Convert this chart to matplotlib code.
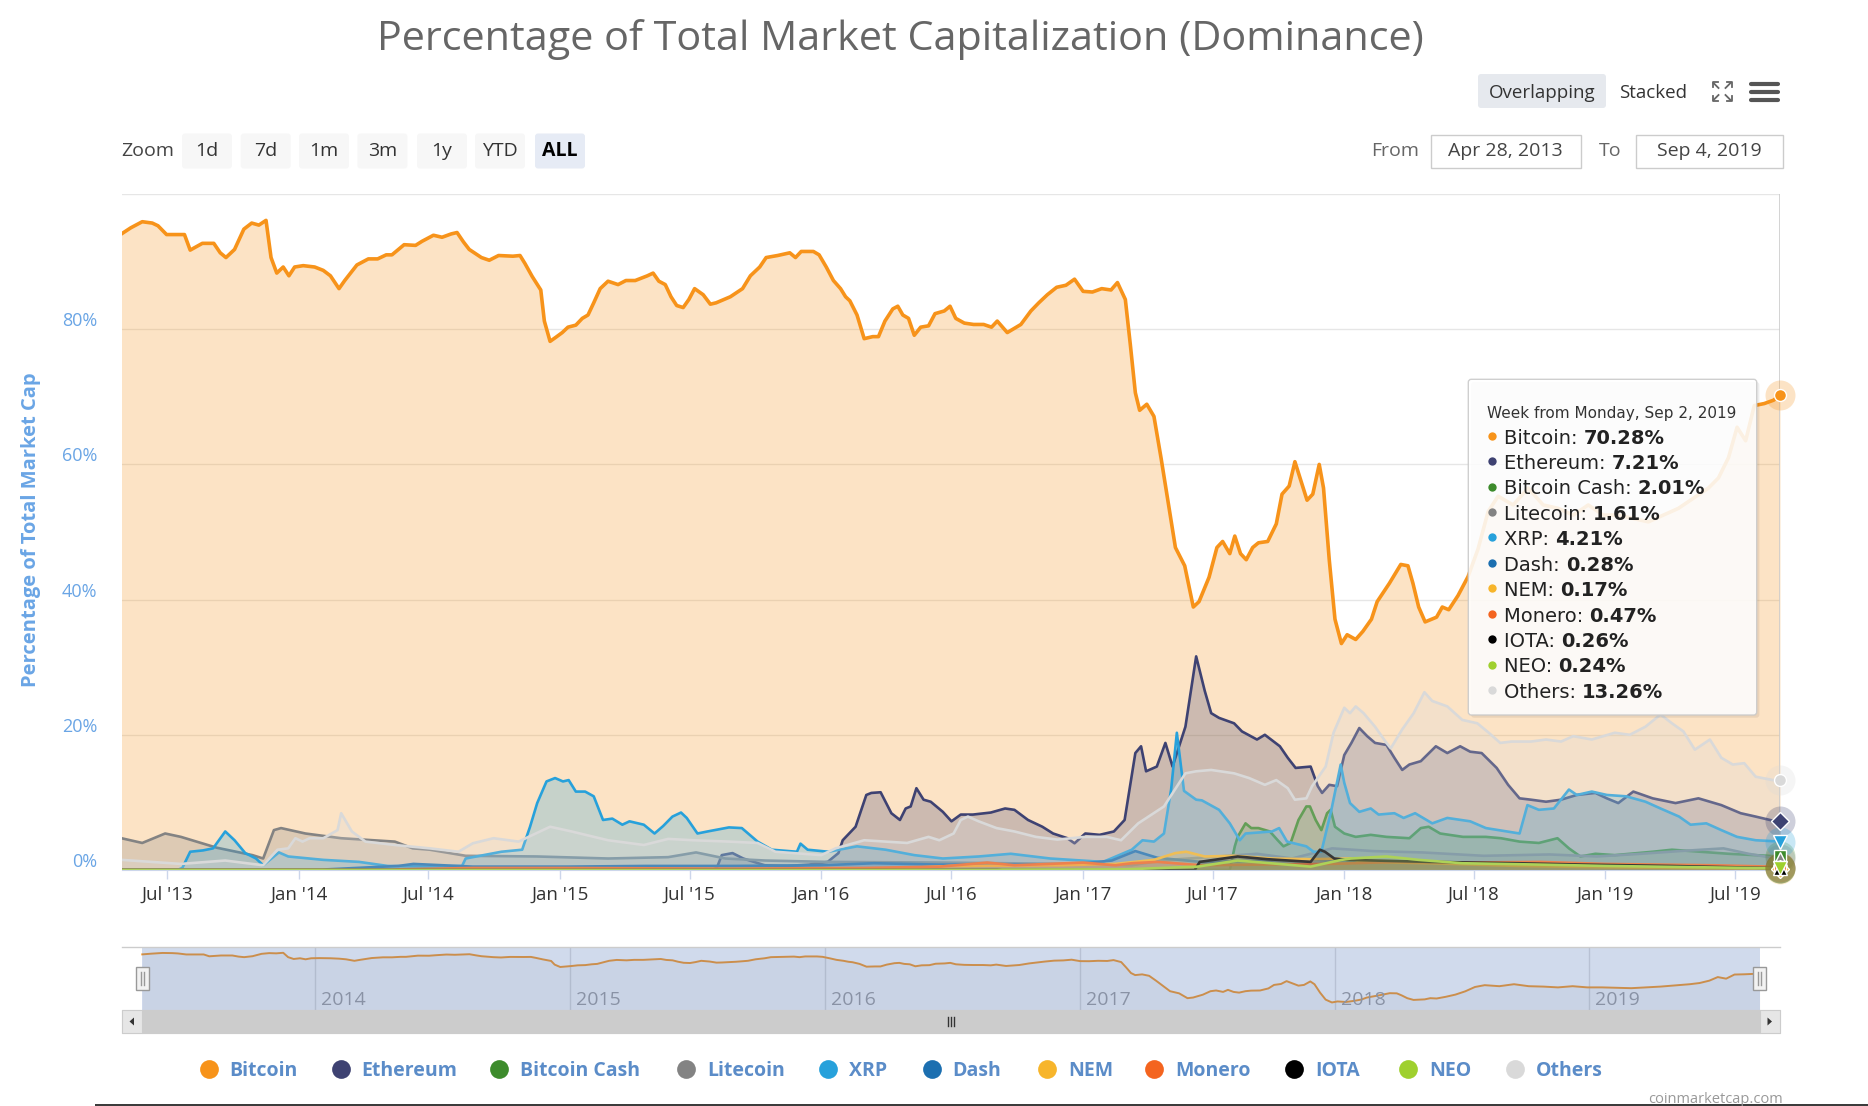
import numpy as np
import pandas as pd
import matplotlib
matplotlib.use("Agg")
import matplotlib.pyplot as plt
import matplotlib.dates as mdates
from matplotlib.patches import Rectangle, FancyBboxPatch, Polygon
from matplotlib.transforms import offset_copy

plt.rcParams['font.family'] = ['Open Sans', 'DejaVu Sans']

# ---------------- data: weekly dominance (% of total market cap) ----------------
btc_dates = ['2013-04-28', '2013-05-11', '2013-05-27', '2013-06-10', '2013-06-18', '2013-06-30',
             '2013-07-25', '2013-08-02', '2013-08-19', '2013-09-04', '2013-09-13', '2013-09-21',
             '2013-10-03', '2013-10-16', '2013-10-27', '2013-11-06', '2013-11-16', '2013-11-23',
             '2013-12-01', '2013-12-10', '2013-12-18', '2013-12-26', '2014-01-07', '2014-01-23',
             '2014-02-04', '2014-02-14', '2014-02-26', '2014-03-06', '2014-03-23', '2014-04-08',
             '2014-04-21', '2014-05-03', '2014-05-11', '2014-05-28', '2014-06-13', '2014-06-22',
             '2014-07-08', '2014-07-20', '2014-08-02', '2014-08-10', '2014-08-19', '2014-08-27',
             '2014-09-13', '2014-09-24', '2014-10-07', '2014-10-27', '2014-11-06', '2014-11-13',
             '2014-11-23', '2014-12-05', '2014-12-10', '2014-12-18', '2014-12-26', '2015-01-04',
             '2015-01-12', '2015-01-23', '2015-02-01', '2015-02-09', '2015-02-17', '2015-02-26',
             '2015-03-09', '2015-03-23', '2015-04-03', '2015-04-16', '2015-05-03', '2015-05-11',
             '2015-05-19', '2015-05-28', '2015-06-05', '2015-06-13', '2015-06-22', '2015-06-30',
             '2015-07-08', '2015-07-20', '2015-07-30', '2015-08-07', '2015-08-27', '2015-09-13',
             '2015-09-24', '2015-10-07', '2015-10-16', '2015-11-01', '2015-11-18', '2015-11-26',
             '2015-12-04', '2015-12-21', '2015-12-29', '2016-01-08', '2016-01-18', '2016-01-28',
             '2016-02-04', '2016-02-10', '2016-02-20', '2016-03-01', '2016-03-13', '2016-03-21',
             '2016-03-30', '2016-04-10', '2016-04-17', '2016-04-24', '2016-05-02', '2016-05-10',
             '2016-05-19', '2016-05-30', '2016-06-08', '2016-06-21', '2016-06-29', '2016-07-07',
             '2016-07-19', '2016-08-01', '2016-08-15', '2016-08-26', '2016-09-03', '2016-09-17',
             '2016-09-25', '2016-10-06', '2016-10-20', '2016-10-31', '2016-11-12', '2016-11-25',
             '2016-12-08', '2016-12-20', '2017-01-01', '2017-01-14', '2017-01-27', '2017-02-09',
             '2017-02-18', '2017-03-01', '2017-03-08', '2017-03-15', '2017-03-21', '2017-03-31',
             '2017-04-10', '2017-04-20', '2017-05-02', '2017-05-10', '2017-05-23', '2017-06-04',
             '2017-06-12', '2017-06-26', '2017-07-07', '2017-07-15', '2017-07-25', '2017-08-01',
             '2017-08-09', '2017-08-17', '2017-08-26', '2017-09-03', '2017-09-16', '2017-09-28',
             '2017-10-06', '2017-10-16', '2017-10-24', '2017-11-02', '2017-11-10', '2017-11-18',
             '2017-11-27', '2017-12-03', '2017-12-11', '2017-12-19', '2017-12-28', '2018-01-05',
             '2018-01-17', '2018-01-27', '2018-02-08', '2018-02-16', '2018-03-05', '2018-03-21',
             '2018-03-31', '2018-04-07', '2018-04-15', '2018-04-24', '2018-05-10', '2018-05-18',
             '2018-05-27', '2018-06-09', '2018-06-23', '2018-07-07', '2018-07-21', '2018-08-04',
             '2018-08-25', '2018-09-15', '2018-10-06', '2018-10-27', '2018-11-17', '2018-12-08',
             '2018-12-29', '2019-01-19', '2019-02-09', '2019-03-02', '2019-03-23', '2019-04-13',
             '2019-05-04', '2019-05-25', '2019-06-08', '2019-06-22', '2019-07-04', '2019-07-16',
             '2019-07-28', '2019-08-11', '2019-08-24', '2019-09-02']
btc_vals = [94.1, 95.0, 95.9, 95.7, 95.3, 94.0, 94.0, 91.7, 92.7, 92.7, 91.3, 90.6,
            91.8, 94.8, 95.7, 95.4, 96.1, 90.6, 88.3, 89.2, 87.9, 89.2, 89.4, 89.2,
            88.7, 87.9, 86.0, 87.2, 89.5, 90.4, 90.4, 91.0, 91.0, 92.5, 92.4, 93.0,
            93.9, 93.6, 94.1, 94.3, 92.9, 91.8, 90.6, 90.2, 90.9, 90.8, 90.9, 89.7,
            87.8, 85.8, 81.2, 78.2, 78.8, 79.5, 80.3, 80.6, 81.6, 82.1, 83.9, 86.0,
            87.1, 86.6, 87.2, 87.2, 87.9, 88.3, 87.1, 86.6, 84.8, 83.5, 83.2, 84.4,
            86.0, 85.1, 83.7, 83.9, 84.8, 86.0, 87.9, 89.2, 90.6, 90.9, 91.3, 90.6,
            91.5, 91.5, 91.0, 89.2, 87.2, 86.0, 84.8, 84.2, 82.1, 78.6, 78.9, 78.9,
            81.2, 83.0, 83.4, 82.1, 81.6, 79.1, 80.3, 80.5, 82.3, 82.7, 83.4, 81.6,
            80.9, 80.7, 80.7, 80.3, 81.2, 79.5, 80.0, 80.7, 82.7, 83.9, 85.1, 86.2,
            86.5, 87.4, 85.6, 85.5, 86.0, 85.8, 86.9, 84.4, 77.7, 70.6, 68.0, 68.9,
            67.1, 60.9, 53.0, 47.7, 45.0, 38.9, 39.7, 43.3, 47.7, 48.6, 46.8, 49.4,
            46.8, 45.9, 47.7, 48.4, 48.6, 51.2, 55.6, 56.8, 60.4, 57.4, 54.7, 55.6,
            60.0, 56.5, 45.9, 37.1, 33.5, 34.8, 34.1, 35.3, 37.1, 39.7, 42.4, 45.2,
            45.0, 42.4, 38.9, 36.7, 37.4, 38.9, 38.5, 40.6, 43.4, 47.5, 53.0, 55.3,
            54.0, 56.5, 54.0, 53.5, 52.5, 54.0, 52.5, 52.5, 52.0, 51.5, 52.5, 53.5,
            55.0, 56.5, 58.0, 61.0, 65.5, 63.5, 68.7, 69.0, 69.5, 70.28]

eth_dates = ['2013-04-28', '2015-08-01', '2015-08-08', '2015-08-15', '2015-08-30', '2015-09-14',
             '2015-10-14', '2015-11-15',
             '2015-12-15', '2016-01-10', '2016-01-25', '2016-01-31', '2016-02-18', '2016-03-04',
             '2016-03-11', '2016-03-24', '2016-04-08', '2016-04-20', '2016-04-28', '2016-05-05',
             '2016-05-13', '2016-05-23', '2016-06-02', '2016-06-19', '2016-07-01', '2016-07-14',
             '2016-07-31', '2016-08-25', '2016-09-14', '2016-09-27', '2016-10-16', '2016-11-05',
             '2016-11-20', '2016-12-10', '2016-12-20', '2017-01-04', '2017-01-24', '2017-02-13',
             '2017-02-28', '2017-03-15', '2017-03-23', '2017-03-30', '2017-04-14', '2017-04-26',
             '2017-05-06', '2017-05-24', '2017-06-08', '2017-06-20', '2017-06-29', '2017-07-10',
             '2017-07-31', '2017-08-11', '2017-09-01', '2017-09-12', '2017-10-03', '2017-10-14',
             '2017-10-25', '2017-11-15', '2017-11-25', '2017-12-01', '2017-12-11', '2017-12-22',
             '2018-01-01', '2018-01-11', '2018-01-22', '2018-02-02', '2018-02-13', '2018-03-01',
             '2018-03-12', '2018-03-23', '2018-04-02', '2018-04-18', '2018-05-09', '2018-05-25',
             '2018-06-12', '2018-06-26', '2018-07-12', '2018-08-02', '2018-08-18', '2018-09-03',
             '2018-09-19', '2018-10-10', '2018-10-31', '2018-11-22', '2018-12-18', '2019-01-03',
             '2019-01-19', '2019-02-09', '2019-03-08', '2019-04-09', '2019-05-11', '2019-06-12',
             '2019-07-09', '2019-07-30', '2019-08-23', '2019-09-02']
eth_vals = [0, 0, 0.3, 2.2, 2.5, 1.7, 0.7, 0.6, 0.8, 1.2, 2.5, 4.4, 6.4, 11.1,
            11.4, 11.5, 8.4, 7.4, 9.1, 9.4, 12.1, 10.4, 10.1, 8.6, 7.2, 8.2,
            8.2, 8.5, 9.1, 8.9, 7.4, 6.4, 5.4, 4.7, 3.95, 5.4, 5.2, 5.7,
            7.4, 17.3, 18.3, 14.6, 15.3, 18.8, 15.3, 21.2, 31.6, 26.5, 23.2, 22.5,
            21.7, 20.5, 19.3, 20.0, 18.3, 16.6, 15.1, 15.3, 12.4, 11.4, 12.6, 12.4,
            17.0, 18.8, 21.0, 19.8, 18.8, 18.5, 16.6, 14.8, 15.6, 16.1, 18.3, 17.3,
            18.3, 17.5, 17.3, 15.1, 12.6, 10.6, 10.4, 10.1, 10.4, 11.1, 11.4, 10.6,
            9.9, 11.6, 10.6, 9.9, 10.6, 9.6, 8.4, 7.9, 7.3, 7.21]

bch_dates = ['2013-04-28', '2017-07-25',
             '2017-08-01', '2017-08-05', '2017-08-16', '2017-08-24', '2017-09-03', '2017-09-19',
             '2017-09-30', '2017-10-08', '2017-10-18', '2017-10-29', '2017-11-09', '2017-11-14',
             '2017-11-22', '2017-11-30', '2017-12-08', '2017-12-13', '2017-12-19', '2018-01-01',
             '2018-01-17', '2018-02-07', '2018-03-01', '2018-04-02', '2018-04-18', '2018-04-29',
             '2018-05-15', '2018-06-16', '2018-07-18', '2018-08-08', '2018-09-03', '2018-09-30',
             '2018-10-26', '2018-11-11', '2018-11-27', '2018-12-18', '2019-01-14', '2019-03-08',
             '2019-04-04', '2019-06-22', '2019-09-02']
bch_vals = [0, 0, 3.5, 4.9, 6.9, 6.2, 6.2, 5.7, 4.4, 3.5, 4.0, 7.4, 9.4, 9.4,
            7.4, 5.9, 8.4, 8.9, 6.4, 5.4, 4.9, 5.2, 4.9, 4.7, 6.2, 6.4,
            5.4, 4.9, 4.9, 4.7, 4.2, 4.0, 4.7, 3.2, 2.0, 2.4, 2.2, 2.7,
            3.0, 2.4, 2.01]

ltc_dates = ['2013-04-28', '2013-05-27', '2013-06-28', '2013-07-20', '2013-09-08', '2013-10-28',
             '2013-11-12', '2013-11-27', '2013-12-07', '2014-01-10', '2014-03-01', '2014-05-15',
             '2014-06-09', '2014-07-03', '2014-08-22', '2014-11-30', '2015-03-09', '2015-06-01',
             '2015-07-10', '2015-08-20', '2015-10-15', '2016-01-10', '2016-06-15', '2016-12-15',
             '2017-03-10', '2017-04-15', '2017-05-15', '2017-07-10', '2017-09-01', '2017-10-20',
             '2017-12-15', '2018-02-10', '2018-04-20', '2018-07-15', '2018-10-15', '2018-12-20',
             '2019-02-20', '2019-04-15', '2019-06-15', '2019-07-20', '2019-09-02']
ltc_vals = [4.7, 4.0, 5.4, 4.9, 3.3, 2.2, 1.7, 5.9, 6.2, 5.4, 4.7, 4.2,
            3.2, 3.0, 2.1, 2.0, 1.7, 1.9, 2.6, 1.7, 1.4, 1.2, 1.1, 0.9,
            0.7, 1.3, 1.6, 2.0, 2.4, 1.7, 3.2, 2.8, 2.6, 2.1, 2.3, 2.0,
            2.4, 2.8, 3.2, 2.4, 1.61]

xrp_dates = ['2013-04-28', '2013-07-15',
             '2013-07-22', '2013-08-02', '2013-08-20', '2013-09-03', '2013-09-20', '2013-10-03',
             '2013-10-18', '2013-11-02', '2013-11-12', '2013-12-04', '2013-12-17', '2014-02-04',
             '2014-03-26', '2014-05-05', '2014-07-03', '2014-08-17', '2014-08-22', '2014-10-11',
             '2014-11-09', '2014-11-20', '2014-11-30', '2014-12-13', '2014-12-25', '2015-01-05',
             '2015-01-13', '2015-01-23', '2015-02-05', '2015-02-17', '2015-03-02', '2015-03-15',
             '2015-03-29', '2015-04-08', '2015-04-28', '2015-05-13', '2015-05-25', '2015-06-07',
             '2015-06-19', '2015-06-27', '2015-07-12', '2015-07-26', '2015-08-25', '2015-09-12',
             '2015-10-04', '2015-10-24', '2015-11-28', '2015-12-03', '2015-12-13', '2016-01-11',
             '2016-02-20', '2016-03-31', '2016-05-10', '2016-06-19', '2016-08-08', '2016-09-22',
             '2016-11-16', '2017-01-29', '2017-03-10', '2017-03-25', '2017-04-10', '2017-04-24',
             '2017-05-04', '2017-05-12', '2017-05-22', '2017-06-08', '2017-06-16', '2017-07-10',
             '2017-07-25', '2017-08-08', '2017-08-16', '2017-09-22', '2017-10-02', '2017-10-13',
             '2017-11-09', '2017-11-19', '2017-11-30', '2017-12-14', '2017-12-27', '2018-01-01',
             '2018-01-09', '2018-01-22', '2018-02-07', '2018-02-18', '2018-03-12', '2018-03-25',
             '2018-04-10', '2018-05-04', '2018-05-25', '2018-06-26', '2018-07-18', '2018-09-03',
             '2018-09-14', '2018-09-30', '2018-10-21', '2018-11-11', '2018-11-22', '2018-12-13',
             '2019-01-03', '2019-01-30', '2019-02-26', '2019-03-19', '2019-04-14', '2019-04-30',
             '2019-05-22', '2019-06-12', '2019-07-04', '2019-07-30', '2019-09-02']
xrp_vals = [0, 0, 0.3, 2.7, 2.9, 3.2, 5.7, 4.4, 2.5, 1.7, 0.7, 2.6, 2.0, 1.5,
            1.2, 0.6, 0.5, 0.6, 1.7, 2.7, 3.0, 6.4, 9.9, 13.1, 13.6, 13.1,
            13.3, 11.6, 11.6, 10.9, 7.4, 7.6, 6.7, 7.2, 6.7, 5.4, 6.5, 7.9,
            8.5, 7.7, 5.4, 5.7, 6.3, 6.2, 4.2, 3.0, 2.7, 3.9, 3.0, 2.7,
            3.5, 3.0, 2.2, 1.7, 2.0, 2.4, 1.7, 1.2, 3.0, 4.4, 4.2, 5.4,
            11.9, 20.3, 11.7, 10.4, 10.3, 8.9, 6.9, 4.4, 5.4, 5.7, 6.2, 4.2,
            3.5, 2.7, 2.7, 8.9, 15.6, 12.9, 9.9, 8.6, 9.1, 8.2, 8.4, 7.7,
            8.4, 6.9, 7.7, 7.2, 6.2, 5.4, 9.6, 8.9, 9.1, 11.9, 11.1, 11.6,
            11.1, 10.9, 10.1, 9.1, 7.9, 6.7, 6.9, 5.9, 4.9, 4.4, 4.21]

dash_dates = ['2013-04-28', '2014-02-03',
              '2014-02-10', '2014-05-20', '2014-06-10', '2014-09-01', '2015-01-10', '2015-05-01',
              '2015-09-01', '2016-01-01', '2016-03-15', '2016-06-15', '2016-09-15', '2016-12-15',
              '2017-02-10', '2017-03-15', '2017-04-15', '2017-06-15', '2017-08-15', '2017-11-15',
              '2017-12-25', '2018-03-01', '2018-06-01', '2018-09-01', '2018-12-01', '2019-03-01',
              '2019-06-01', '2019-09-02']
dash_vals = [0, 0, 0.1, 0.6, 0.9, 0.5, 0.5, 0.6, 0.6, 0.7, 1.0, 0.8, 0.8, 0.8,
             1.4, 2.8, 1.8, 1.2, 1.3, 1.6, 1.3, 1.2, 1.0, 1.0, 0.8, 0.6,
             0.6, 0.28]

nem_dates = ['2013-04-28', '2015-03-25',
             '2015-04-01', '2016-01-01', '2016-05-01', '2016-07-01', '2016-12-01', '2017-02-15',
             '2017-04-10', '2017-05-10', '2017-05-25', '2017-06-20', '2017-08-01', '2017-09-20',
             '2017-11-15', '2018-01-10', '2018-01-25', '2018-05-01', '2018-09-01', '2019-01-01',
             '2019-09-02']
nem_vals = [0, 0, 0.1, 0.05, 0.3, 0.6, 0.7, 0.9, 1.5, 2.5, 2.7, 2.0, 2.1, 1.7,
            1.6, 1.7, 1.2, 1.0, 0.6, 0.4, 0.17]

xmr_dates = ['2013-04-28', '2014-05-13',
             '2014-05-20', '2014-09-01', '2015-01-01', '2015-09-01', '2016-03-01', '2016-06-15',
             '2016-08-20', '2016-09-27', '2017-01-01', '2017-02-15', '2017-03-10', '2017-04-15',
             '2017-06-15', '2017-09-01', '2017-12-15', '2018-03-15', '2018-06-15', '2018-10-01',
             '2019-01-01', '2019-06-01', '2019-09-02']
xmr_vals = [0, 0, 0.1, 0.3, 0.3, 0.2, 0.3, 0.5, 1.1, 0.7, 1.1, 0.7, 1.0, 1.2,
            0.7, 0.8, 0.9, 1.2, 1.1, 1.2, 0.9, 0.7, 0.47]

iota_dates = ['2013-04-28', '2017-06-06',
              '2017-06-13', '2017-08-05', '2017-09-15', '2017-11-15', '2017-11-28', '2017-12-05',
              '2017-12-18', '2018-01-05', '2018-05-01', '2018-09-01', '2018-12-01', '2019-04-01',
              '2019-09-02']
iota_vals = [0, 0, 1.2, 2.0, 1.6, 1.2, 3.0, 2.7, 1.7, 1.5, 1.2, 1.0, 0.8, 0.6, 0.26]

neo_dates = ['2013-04-28', '2016-09-03',
             '2016-09-10', '2017-03-01', '2017-06-10', '2017-08-05', '2017-09-20', '2017-11-15',
             '2017-12-28', '2018-01-10', '2018-03-01', '2018-04-15', '2018-06-15', '2018-10-01',
             '2019-01-01', '2019-09-02']
neo_vals = [0, 0, 0.05, 0.1, 0.5, 1.4, 1.0, 0.5, 1.5, 1.7, 2.0, 1.5, 1.0, 0.8, 0.6, 0.24]

oth_dates = ['2013-04-28', '2013-07-20', '2013-09-20', '2013-11-12', '2013-12-02', '2013-12-17',
             '2013-12-27', '2014-01-06', '2014-01-16', '2014-02-04', '2014-02-24', '2014-03-01',
             '2014-03-16', '2014-04-04', '2014-05-15', '2014-07-03', '2014-08-12', '2014-09-01',
             '2014-09-30', '2014-11-04', '2014-12-18', '2015-01-17', '2015-03-09', '2015-04-28',
             '2015-06-01', '2015-07-06', '2015-08-25', '2015-10-04', '2015-10-29', '2016-01-01',
             '2016-01-21', '2016-03-01', '2016-04-30', '2016-05-30', '2016-06-14', '2016-07-04',
             '2016-07-14', '2016-07-24', '2016-08-08', '2016-09-02', '2016-09-27', '2016-10-27',
             '2016-11-26', '2017-01-04', '2017-02-03', '2017-02-23', '2017-03-19', '2017-04-24',
             '2017-05-24', '2017-06-08', '2017-06-29', '2017-07-31', '2017-08-21', '2017-09-12',
             '2017-09-28', '2017-10-14', '2017-10-24', '2017-11-09', '2017-11-17', '2017-12-06',
             '2017-12-17', '2018-01-01', '2018-01-09', '2018-01-17', '2018-01-28', '2018-02-13',
             '2018-03-01', '2018-03-07', '2018-03-23', '2018-04-08', '2018-04-23', '2018-05-04',
             '2018-05-25', '2018-06-15', '2018-07-06', '2018-07-22', '2018-08-07', '2018-08-23',
             '2018-09-19', '2018-10-10', '2018-10-31', '2018-11-17', '2018-12-13', '2019-01-14',
             '2019-02-04', '2019-02-26', '2019-03-19', '2019-04-04', '2019-04-20', '2019-05-06',
             '2019-05-27', '2019-06-12', '2019-06-28', '2019-07-14', '2019-07-30', '2019-08-23',
             '2019-09-02']
oth_vals = [1.5, 0.9, 1.4, 0.7, 3.0, 3.2, 4.7, 4.2, 4.7, 4.7, 5.9, 8.4,
            5.7, 4.2, 3.7, 3.2, 2.7, 3.95, 4.7, 4.2, 6.4, 5.7, 4.4, 3.7,
            4.6, 4.4, 4.2, 4.0, 2.7, 2.2, 3.2, 4.4, 4.0, 4.9, 4.4, 5.4,
            7.4, 7.9, 7.2, 6.2, 5.7, 4.9, 4.5, 4.9, 4.9, 4.4, 6.9, 9.4,
            14.3, 14.6, 14.8, 14.3, 13.6, 12.6, 13.3, 12.1, 10.4, 10.6, 12.4, 15.3,
            20.3, 24.0, 23.2, 24.2, 23.2, 21.2, 18.8, 18.0, 20.8, 23.2, 26.3, 25.0,
            24.2, 22.2, 21.7, 20.3, 18.8, 19.0, 19.0, 19.3, 19.0, 19.8, 19.3, 20.3,
            20.0, 21.2, 23.0, 21.7, 20.5, 17.8, 19.3, 16.6, 15.6, 15.8, 13.8, 13.3,
            13.26]

series_names = ['Bitcoin', 'Ethereum', 'Bitcoin Cash', 'Litecoin', 'XRP', 'Dash',
                'NEM', 'Monero', 'IOTA', 'NEO', 'Others']
series_colors = ['#f7931a', '#3e4272', '#3d8b2c', '#838383', '#27a1db', '#1c6fb0',
                 '#f7b52b', '#f4641f', '#000000', '#9fd02e', '#d9d9d9']
series_markers = ['o', 'D', 's', '^', 'v', 'o', 'D', 's', '^', 'v', 'o']
series_dates = [btc_dates, eth_dates, bch_dates, ltc_dates, xrp_dates, dash_dates,
                nem_dates, xmr_dates, iota_dates, neo_dates, oth_dates]
series_vals = [btc_vals, eth_vals, bch_vals, ltc_vals, xrp_vals, dash_vals,
               nem_vals, xmr_vals, iota_vals, neo_vals, oth_vals]

x_tick_dates = ['2013-07-01', '2014-01-01', '2014-07-01', '2015-01-01', '2015-07-01',
                '2016-01-01', '2016-07-01', '2017-01-01', '2017-07-01', '2018-01-01',
                '2018-07-01', '2019-01-01', '2019-07-01']
x_tick_labels = ["Jul '13", "Jan '14", "Jul '14", "Jan '15", "Jul '15", "Jan '16", "Jul '16",
                 "Jan '17", "Jul '17", "Jan '18", "Jul '18", "Jan '19", "Jul '19"]
y_ticks = [0, 20, 40, 60, 80]
nav_years = [2014, 2015, 2016, 2017, 2018, 2019]
zoom_buttons = ['1d', '7d', '1m', '3m', '1y', 'YTD', 'ALL']

start = pd.Timestamp('2013-04-28')
end = pd.Timestamp('2019-09-02')

# ---------------- figure ----------------
W, H = 1868, 1106
fig = plt.figure(figsize=(W / 100, H / 100), dpi=100)
fig.patch.set_facecolor('white')

PL, PR, PT, PB = 121.5, 1780, 194, 870
ax = fig.add_axes([PL / W, 1 - PB / H, (PR - PL) / W, (PB - PT) / H])
ax.set_xlim(start, end)
ax.set_ylim(0, 100)
for s in ['left', 'right', 'top']:
    ax.spines[s].set_visible(False)
ax.spines['bottom'].set_color('#ccd6eb')
ax.set_yticks([])
ax.set_xticks(pd.to_datetime(x_tick_dates))
ax.set_xticklabels([])
ax.tick_params(axis='x', length=6.5, width=1, color='#ccd6eb', direction='out')
ax.patch.set_alpha(0)

for v in [0, 20, 40, 60, 80, 100]:
    ax.axhline(v, color='#e6e6e6', lw=1, zorder=0.5)

for i, (d, v, c) in enumerate(zip(series_dates, series_vals, series_colors)):
    d = pd.to_datetime(d)
    lw = 2.6 if i == 0 else 1.9
    ax.fill_between(d, 0, v, color=c, alpha=0.25, lw=0, zorder=1 + i * 0.02)
    ax.plot(d, v, color=c, lw=lw, zorder=1.01 + i * 0.02, solid_joinstyle='round')

# crosshair at the hovered week
ax.axvline(end, color='#cccccc', lw=1.2, zorder=3)

# hover markers with halo
for i, (v, c, m) in enumerate(zip(series_vals, series_colors, series_markers)):
    ax.plot([end], [v[-1]], marker='o', ms=21.6, color=c, alpha=0.25, mec='none',
            clip_on=False, zorder=4 + i * 0.02)
for i, (v, c, m) in enumerate(zip(series_vals, series_colors, series_markers)):
    ms = 8.6 if m in ('o', 's') else 9.5
    ax.plot([end], [v[-1]], marker=m, ms=ms, mfc=c, mec='white', mew=1,
            clip_on=False, zorder=5 + i * 0.02)

# axis labels
for dt, lab in zip(x_tick_dates, x_tick_labels):
    ax.text(mdates.date2num(pd.Timestamp(dt)), 0, lab,
            transform=offset_copy(ax.get_xaxis_transform(), fig=fig, y=-30, units='dots'),
            ha='center', va='baseline', fontsize=13.5, color='#333333')
for v in y_ticks:
    ax.text(-0.0144, v, f'{v}%',
            transform=offset_copy(ax.get_yaxis_transform(), fig=fig, y=3, units='dots'),
            ha='right', va='baseline', fontsize=13, color='#6aa5e5')

# ---------------- navigator ----------------
NT, NB = 947, 1010
nav = fig.add_axes([PL / W, 1 - NB / H, (PR - PL) / W, (NB - NT) / H])
nav.set_xlim(start - pd.Timedelta(days=29.8), end + pd.Timedelta(days=29.2))
nav.set_ylim(24, 103.4)
nav.axis('off')
bd = pd.to_datetime(btc_dates)
nav.fill_between(bd, 0, btc_vals, color='#808080', alpha=0.08, lw=0, zorder=1)
nav.plot(bd, btc_vals, color='#f7931a', lw=1.4, zorder=2)
for yr in nav_years:
    t = pd.Timestamp(f'{yr}-01-01')
    nav.axvline(t, color='#dcdcdc', lw=1, zorder=0.5)
    nav.text(mdates.date2num(t), 0, str(yr),
             transform=offset_copy(nav.get_xaxis_transform(), fig=fig, x=6, y=5, units='dots'),
             ha='left', va='baseline', fontsize=14, color='#999999', zorder=3)
nav.axvspan(start, end, color='#6685c2', alpha=0.3, lw=0, zorder=5)

# ---------------- overlay (pixel coordinates) ----------------
ov = fig.add_axes([0, 0, 1, 1], zorder=10)
ov.set_xlim(0, W)
ov.set_ylim(H, 0)
ov.axis('off')

ov.text(900, 50, 'Percentage of Total Market Capitalization (Dominance)', ha='center',
        va='baseline', fontsize=29.8, color='#666666')

# overlapping / stacked / icons
ov.add_patch(FancyBboxPatch((1478, 74), 128, 34, boxstyle='round,pad=0,rounding_size=3',
                            fc='#e6e9ee', ec='none'))
ov.text(1542, 98.5, 'Overlapping', ha='center', va='baseline', fontsize=13.5, color='#333333')
ov.text(1653.5, 98.5, 'Stacked', ha='center', va='baseline', fontsize=13.5, color='#333333')
cx, cy = 1722, 91.5
for dx in (-1, 1):
    for dy in (-1, 1):
        px, py = cx + 9.5 * dx, cy + 9.5 * dy
        ov.plot([px - 5 * dx, px, px], [py, py, py - 5 * dy], color='#666666', lw=1.3)
        ov.plot([px - 1 * dx, px - 6 * dx], [py - 1 * dy, py - 6 * dy], color='#666666', lw=1.3)
for yy in (83.5, 91.7, 100):
    ov.plot([1751, 1778], [yy, yy], color='#555555', lw=3, solid_capstyle='round')

# range selector
ov.text(121.5, 156.5, 'Zoom', ha='left', va='baseline', fontsize=14, color='#444444')
bx = [207, 265.7, 324, 382.4, 442, 500, 560]
for x, lab in zip(bx, zoom_buttons):
    sel = lab == 'ALL'
    ov.add_patch(FancyBboxPatch((x - 25, 133.5), 50, 35, boxstyle='round,pad=0,rounding_size=3',
                                fc='#e6ebf5' if sel else '#f7f7f7', ec='none'))
    ov.text(x, 156.5, lab, ha='center', va='baseline', fontsize=14,
            color='#000000' if sel else '#333333', fontweight='bold' if sel else 'normal')
ov.text(1395, 156.5, 'From', ha='center', va='baseline', fontsize=14, color='#666666')
ov.text(1610.5, 156.5, 'To', ha='center', va='baseline', fontsize=14, color='#666666')
ov.add_patch(Rectangle((1431, 135), 150, 33, fc='white', ec='#cccccc', lw=1))
ov.add_patch(Rectangle((1636, 135), 147, 33, fc='white', ec='#cccccc', lw=1))
ov.text(1505, 156.5, 'Apr 28, 2013', ha='center', va='baseline', fontsize=14, color='#444444')
ov.text(1709, 156.5, 'Sep 4, 2019', ha='center', va='baseline', fontsize=14, color='#444444')

# y axis title
ov.text(31, 530, 'Percentage of Total Market Cap', rotation=90, ha='center', va='center',
        fontsize=14.5, fontweight='bold', color='#6aa5e5')

# tooltip
ov.add_patch(FancyBboxPatch((1471, 382), 288.4, 335.7, boxstyle='round,pad=0,rounding_size=3',
                            fc='black', ec='none', alpha=0.07))
ov.add_patch(FancyBboxPatch((1468.3, 379.3), 288.4, 335.7, boxstyle='round,pad=0,rounding_size=3',
                            fc='white', ec='#c9c9c9', lw=1, alpha=0.88))
ov.text(1486.7, 418, 'Week from Monday, Sep 2, 2019', ha='left', va='baseline', fontsize=11,
        color='#333333', family='DejaVu Sans')
row_y = 435.7
for name, c, v in zip(series_names, series_colors, series_vals):
    ov.plot([1492.3], [row_y], 'o', ms=6, color=c, mec='none')
    t = ov.text(1504, row_y + 7.8, name + ': ', ha='left', va='baseline', fontsize=14,
                color='#222222', family='DejaVu Sans')
    ov.annotate(f'{v[-1]:.2f}%', xy=(1, 0), xycoords=t, ha='left', va='bottom', fontsize=14,
                fontweight='bold', color='#222222', family='DejaVu Sans')
    row_y += 25.43

# navigator furniture
ov.plot([PL, PR], [NT, NT], color='#cccccc', lw=1)
for hx in (142.3, 1759.6):
    ov.add_patch(Rectangle((hx - 6.5, 966.7), 13, 23.3, fc='#f2f2f2', ec='#999999', lw=1))
    ov.plot([hx - 1.8, hx - 1.8], [972, 985], color='#999999', lw=1)
    ov.plot([hx + 1.8, hx + 1.8], [972, 985], color='#999999', lw=1)

# scrollbar
ov.add_patch(Rectangle((PL, NB), PR - PL, 23, fc='#f2f2f2', ec='#dddddd', lw=0.8))
ov.add_patch(Rectangle((142.3, NB), 1759.6 - 142.3, 23, fc='#cccccc', ec='#cccccc', lw=0.8))
ov.add_patch(Rectangle((PL, NB), 142.3 - PL, 23, fc='#e6e6e6', ec='#cccccc', lw=0.8))
ov.add_patch(Rectangle((1759.6, NB), PR - 1759.6, 23, fc='#e6e6e6', ec='#cccccc', lw=0.8))
ov.add_patch(Polygon([[129.5, 1021.5], [134, 1017.5], [134, 1025.5]], closed=True, fc='#333333'))
ov.add_patch(Polygon([[1772, 1021.5], [1767.5, 1017.5], [1767.5, 1025.5]], closed=True,
                     fc='#333333'))
mid = (142.3 + 1759.6) / 2
for dx in (-3, 0, 3):
    ov.plot([mid + dx, mid + dx], [1017, 1026], color='#333333', lw=1)

# legend
leg_dot_x = [208.5, 340.7, 499, 686, 828, 931.6, 1047, 1154, 1294, 1408, 1515]
for x, name, c in zip(leg_dot_x, series_names, series_colors):
    ov.plot([x], [1068.6], 'o', ms=13.5, color=c, mec='none')
    ov.text(x + 21, 1075.5, name, ha='left', va='baseline', fontsize=14, fontweight='bold',
            color='#5b8cc8')

ov.text(1783, 1103, 'coinmarketcap.com', ha='right', va='baseline', fontsize=10.5,
        color='#999999')
ov.add_patch(Rectangle((95, 1103.5), W - 95, 3, fc='#3c3c3c', ec='none'))

fig.savefig('out.png', dpi=100)
